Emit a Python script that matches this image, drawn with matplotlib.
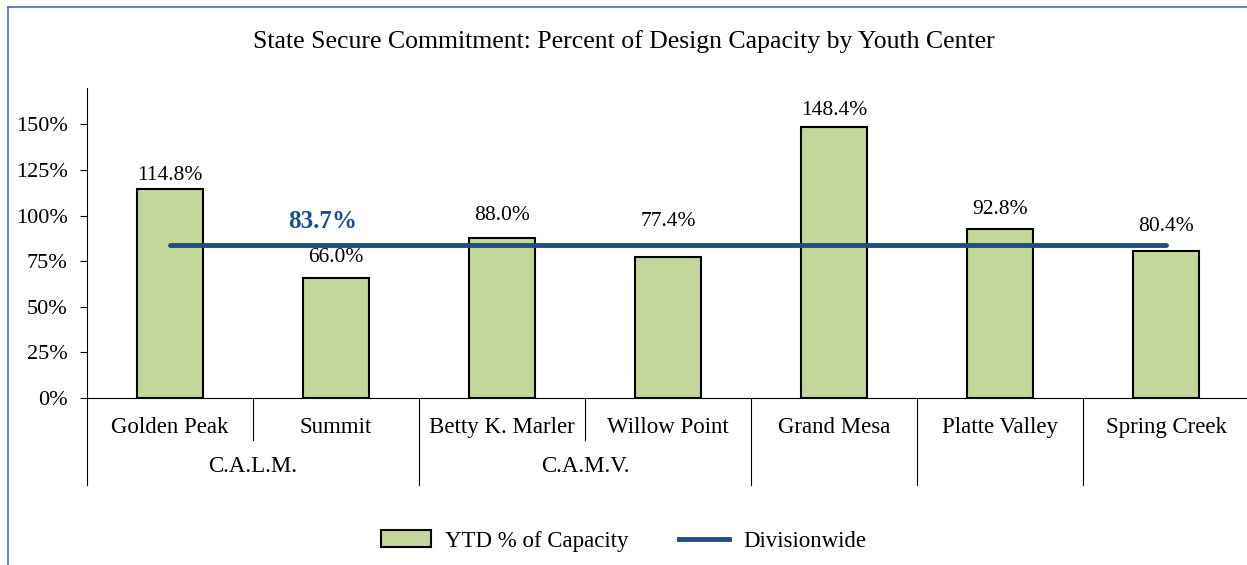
import matplotlib.pyplot as plt
from matplotlib.lines import Line2D
from matplotlib.patches import Patch
import matplotlib.transforms as mtransforms

plt.rcParams['font.family'] = ['Liberation Serif', 'DejaVu Serif']

centers = ['Golden Peak', 'Summit', 'Betty K. Marler', 'Willow Point',
           'Grand Mesa', 'Platte Valley', 'Spring Creek']
groups = ['C.A.L.M.', 'C.A.M.V.']
group_spans = [(0, 1), (2, 3)]
ytd_pct = [114.8, 66.0, 88.0, 77.4, 148.4, 92.8, 80.4]
division_pct = 83.7
yticks = [0, 25, 50, 75, 100, 125, 150]

# label lift above each bar (layout only, labels avoid the divisionwide line)
label_lift = [7, 11, 12, 19.5, 9.5, 10.5, 13.5]

bar_color = '#C4D79B'
line_color = '#1F4E85'

fig = plt.figure(figsize=(12.47, 5.65), dpi=100)
ax = fig.add_axes([87 / 1247, 1 - 398 / 565, 1162 / 1247, 310 / 565])

x = list(range(len(centers)))
ax.bar(x, ytd_pct, width=0.4, color=bar_color, edgecolor='black', linewidth=1.5, zorder=2)
ax.plot([x[0], x[-1]], [division_pct, division_pct], color=line_color, linewidth=3.5,
        solid_capstyle='round', zorder=3)

for xi, v, d in zip(x, ytd_pct, label_lift):
    ax.text(xi, v + d, f'{v:.1f}%', ha='center', va='center', fontsize=15.5)
ax.text(0.92, division_pct + 13, f'{division_pct:.1f}%', ha='center', va='center',
        fontsize=18, fontweight='bold', color=line_color)

ax.set_xlim(-0.5, len(centers) - 0.5)
ax.set_ylim(0, 170)
ax.set_yticks(yticks)
ax.set_yticklabels([f'{t}%' for t in yticks], fontsize=16)
ax.tick_params(axis='y', length=5, width=0.8, direction='out', pad=9)
ax.set_xticks([])
for s in ['top', 'right']:
    ax.spines[s].set_visible(False)
ax.spines['left'].set_linewidth(0.8)
ax.spines['bottom'].set_linewidth(0.8)

# multi-level category axis
trans = mtransforms.blended_transform_factory(ax.transData, ax.transAxes)
for xi, name in zip(x, centers):
    ax.text(xi, -0.094, name, transform=trans, ha='center', va='center', fontsize=16.5)
for g, (a, b) in zip(groups, group_spans):
    ax.text((a + b) / 2, -0.222, g, transform=trans, ha='center', va='center', fontsize=16.5)

in_group = set()
for a, b in group_spans:
    in_group.update(range(a + 1, b + 1))
for i in range(len(centers)):
    bx = i - 0.5
    low = -0.135 if i in in_group else -0.28
    ax.plot([bx, bx], [0, low], transform=trans, color='black', linewidth=0.8, clip_on=False)

fig.text(0.5, 1 - 42 / 565, 'State Secure Commitment: Percent of Design Capacity by Youth Center',
         ha='center', va='center', fontsize=18.5)

handles = [Patch(facecolor=bar_color, edgecolor='black', linewidth=1.5),
           Line2D([0], [0], color=line_color, linewidth=3.5)]
fig.legend(handles, ['YTD % of Capacity', 'Divisionwide'], loc='center',
           bbox_to_anchor=(0.5, 1 - 541 / 565), ncol=2, frameon=False, fontsize=16.5,
           handlelength=2.2, handleheight=0.7, handletextpad=0.6, columnspacing=2.2)

# outer chart border (left and top edges visible)
fig.add_artist(Line2D([8 / 1247, 8 / 1247], [0, 1 - 7 / 565], color='#4A6FA5', linewidth=1.2))
fig.add_artist(Line2D([8 / 1247, 1], [1 - 7 / 565, 1 - 7 / 565], color='#4A6FA5', linewidth=1.2))

fig.savefig('out.png', dpi=100)
